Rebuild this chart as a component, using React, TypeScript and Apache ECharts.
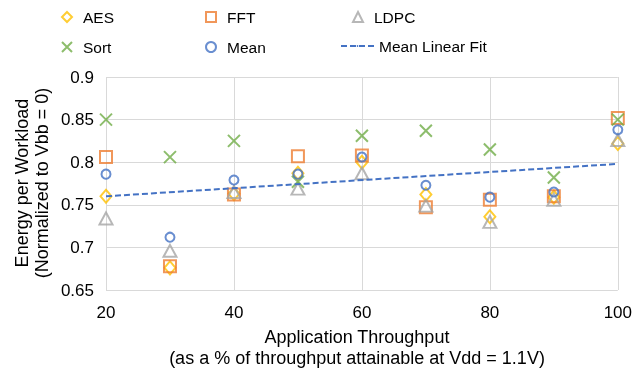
import React, { useEffect, useRef } from "react";
import * as echarts from "echarts";

const throughput = [20, 30, 40, 50, 60, 70, 80, 90, 100];
const aes = [0.760, 0.676, 0.763, 0.787, 0.800, 0.762, 0.736, 0.759, 0.822];
const fft = [0.806, 0.678, 0.762, 0.807, 0.808, 0.747, 0.756, 0.760, 0.852];
const ldpc = [0.734, 0.696, 0.765, 0.769, 0.787, 0.749, 0.730, 0.756, 0.826];
const sort = [0.850, 0.806, 0.825, 0.777, 0.831, 0.837, 0.815, 0.782, 0.850];
const mean = [0.786, 0.712, 0.779, 0.786, 0.806, 0.773, 0.759, 0.765, 0.838];
const fitX = [20, 100];
const fitY = [0.760, 0.798];

const xTitle = ["Application Throughput", "(as a % of throughput attainable at Vdd = 1.1V)"];
const yTitle = ["Energy per Workload", "(Normalized to Vbb = 0)"];

const FONT = "'Liberation Sans', Arial, sans-serif";
const DASH_ICON = "path://M0,0h5v2h-5zM7,0h5v2h-5zM14,0h5v2h-5zM21,0h5v2h-5zM28,0h5v2h-5z";

const pairs = (ys: number[]) => throughput.map((x, i) => [x, ys[i]]);

export default function App() {
  const ref = useRef<HTMLDivElement>(null);
  useEffect(() => {
    document.body.style.margin = "0";
    const chart = echarts.init(ref.current!, undefined, { renderer: "svg" });
    const hollow = (c: string) => ({ color: "rgba(0,0,0,0)", borderColor: c, borderWidth: 2 });
    const mkLegend = (name: string, left: number, top: number, w = 10, h = 10, pad = 6) => ({
      data: [name],
      left,
      top,
      itemWidth: w,
      itemHeight: h,
      selectedMode: false,
      itemStyle: { borderWidth: 2 },
      textStyle: { fontSize: 15.5, color: "#000", fontFamily: FONT, padding: [0, 0, 0, pad] },
    });
    chart.setOption({
      animation: false,
      textStyle: { fontFamily: FONT },
      grid: { left: 106, right: 15, top: 77, bottom: 87 },
      legend: [
        mkLegend("AES", 56, 4),
        mkLegend("FFT", 200, 4),
        mkLegend("LDPC", 347, 4),
        mkLegend("Sort", 56, 34),
        mkLegend("Mean", 200, 34),
        mkLegend("Mean Linear Fit", 335, 33, 33, 2, 0),
      ],
      xAxis: {
        type: "value",
        min: 20,
        max: 100,
        interval: 20,
        axisLine: { show: false },
        axisTick: { show: false },
        splitLine: { show: true, lineStyle: { color: "#D9D9D9", width: 1 } },
        axisLabel: { fontSize: 17, color: "#000", margin: 14, fontFamily: FONT },
      },
      yAxis: {
        type: "value",
        min: 0.65,
        max: 0.9,
        interval: 0.05,
        axisLine: { show: false },
        axisTick: { show: false },
        splitLine: { show: true, lineStyle: { color: "#D9D9D9", width: 1 } },
        axisLabel: { fontSize: 17, color: "#000", margin: 12, fontFamily: FONT },
      },
      graphic: [
        {
          type: "text",
          x: 357,
          y: 347,
          style: {
            text: xTitle.join("\n"),
            align: "center",
            verticalAlign: "middle",
            fontSize: 18,
            lineHeight: 21,
            fill: "#000",
            fontFamily: FONT,
          },
        },
        {
          type: "text",
          x: 32,
          y: 183,
          rotation: Math.PI / 2,
          style: {
            text: yTitle.join("\n"),
            align: "center",
            verticalAlign: "middle",
            fontSize: 18,
            lineHeight: 20,
            fill: "#000",
            fontFamily: FONT,
          },
        },
      ],
      series: [
        { name: "AES", type: "scatter", symbol: "diamond", symbolSize: [11, 13], data: pairs(aes), itemStyle: hollow("#FFC000") },
        { name: "FFT", type: "scatter", symbol: "rect", symbolSize: 12, data: pairs(fft), itemStyle: hollow("#ED7D31") },
        { name: "LDPC", type: "scatter", symbol: "triangle", symbolSize: [13, 12], data: pairs(ldpc), itemStyle: hollow("#A5A5A5") },
        { name: "Sort", type: "scatter", symbol: "path://M0,0L10,10M10,0L0,10", symbolSize: 12, data: pairs(sort), itemStyle: hollow("#70AD47") },
        { name: "Mean", type: "scatter", symbol: "circle", symbolSize: 9, data: pairs(mean), itemStyle: hollow("#4472C4") },
        {
          name: "Mean Linear Fit",
          type: "line",
          symbol: "none",
          legendIcon: DASH_ICON,
          data: fitX.map((x, i) => [x, fitY[i]]),
          lineStyle: { color: "#4472C4", width: 2, type: [6, 3] },
          itemStyle: { color: "#4472C4" },
        },
      ],
    });
    return () => chart.dispose();
  }, []);
  return <div ref={ref} style={{ width: 635, height: 377, position: "fixed", left: 0, top: 0 }} />;
}
